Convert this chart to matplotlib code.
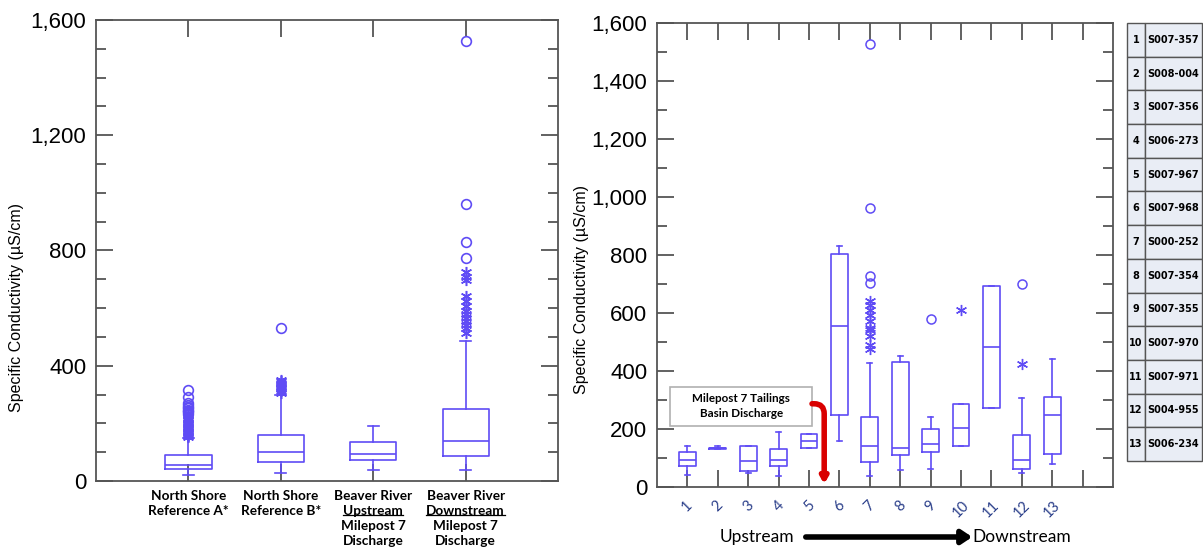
import matplotlib
matplotlib.use("Agg")
import matplotlib.pyplot as plt
from matplotlib.ticker import MultipleLocator, FuncFormatter
from matplotlib.patches import Rectangle, FancyArrowPatch
from matplotlib.lines import Line2D
import matplotlib.transforms as mtrans

# ---- left panel: regional comparison ----
left_labels = [
    ["North Shore", "Reference A*"],
    ["North Shore", "Reference B*"],
    ["Beaver River", "Upstream", "Milepost 7", "Discharge"],
    ["Beaver River", "Downstream", "Milepost 7", "Discharge"],
]
left_underlined = ["Upstream", "Downstream"]
left_whislo = [21, 29, 38, 38]
left_q1 = [43, 65, 73, 86]
left_med = [55, 99, 95, 140]
left_q3 = [89, 161, 137, 250]
left_whishi = [150, 300, 191, 485]
left_stars = [
    [151, 155, 158, 162, 167, 170, 174, 179, 183, 186, 190, 195, 199, 203,
     206, 211, 215, 219, 224, 229],
    [305, 312, 318, 322, 327, 331, 336, 341, 347, 352],
    [],
    [514, 531, 543, 555, 566, 578, 590, 608, 626, 643, 696, 708, 726],
]
left_circles = [
    [233, 238, 243, 248, 252, 258, 264, 270, 291, 317],
    [532],
    [],
    [775, 831, 963, 1527],
]

# ---- right panel: individual sites ----
site_nums = list(range(1, 14))
site_ids = ["S007-357", "S008-004", "S007-356", "S006-273", "S007-967",
            "S007-968", "S000-252", "S007-354", "S007-355", "S007-970",
            "S007-971", "S004-955", "S006-234"]
right_whislo = [40, 130, 49, 38, 136, 158, 38, 57, 63, 142, 271, 47, 80]
right_q1 = [73, 131, 54, 71, 136, 248, 87, 109, 122, 142, 271, 62, 114]
right_med = [92, 133, 88, 92, 159, 555, 140, 136, 148, 205, 484, 92, 249]
right_q3 = [122, 136, 142, 131, 182, 803, 241, 430, 200, 287, 694, 180, 312]
right_whishi = [142, 141, 142, 188, 182, 831, 429, 453, 243, 287, 694, 306, 443]
right_stars = {7: [476, 491, 519, 542, 548, 571, 594, 611, 628, 640],
               10: [611], 12: [424]}
right_circles = {7: [703, 726, 961, 1526], 9: [579], 12: [700]}

BOX = "#5f4cf5"
SPINE = "#555555"
ylabel = "Specific Conductivity (\u00b5S/cm)"
comma = FuncFormatter(lambda v, p: f"{v:,.0f}")

fig = plt.figure(figsize=(12.03, 5.5), dpi=100)
W, H = 1203, 550
axL = fig.add_axes([96 / W, 69 / H, 462 / W, 461 / H])
axR = fig.add_axes([657 / W, 63 / H, 456 / W, 464 / H])
axT = fig.add_axes([1127 / W, 89 / H, 75 / W, 438 / H])


def make_stats(lo, q1, med, q3, hi):
    return [dict(whislo=a, q1=b, med=c, q3=d, whishi=e, fliers=[])
            for a, b, c, d, e in zip(lo, q1, med, q3, hi)]


line = dict(color=BOX, lw=1.2)
for ax, stats, pos, w, cw in [
    (axL, make_stats(left_whislo, left_q1, left_med, left_q3, left_whishi),
     [1, 2, 3, 4], 0.5, 0.12),
    (axR, make_stats(right_whislo, right_q1, right_med, right_q3, right_whishi),
     site_nums, 0.55, 0.16),
]:
    ax.bxp(stats, positions=pos, widths=w, capwidths=cw, showfliers=False,
           boxprops=line, whiskerprops=line, capprops=line, medianprops=line)
    ax.set_ylim(0, 1600)
    ax.yaxis.set_minor_locator(MultipleLocator(100))
    ax.yaxis.set_major_formatter(comma)
    for s in ax.spines.values():
        s.set_color(SPINE)
        s.set_linewidth(1.3)
    ax.tick_params(which="both", direction="in", right=True, top=True,
                   color=SPINE, width=1.3)
    ax.tick_params(which="major", length=12)
    ax.tick_params(which="minor", length=7)
    ax.tick_params(axis="y", labelsize=16, pad=7)
    for lab in ax.get_yticklabels():
        lab.set_fontfamily("Liberation Sans")

star = (6, 2, 0)
for i, (st, ci) in enumerate(zip(left_stars, left_circles)):
    axL.plot([i + 1] * len(st), st, ls="none", marker=star, ms=8,
             mec=BOX, mew=1.1)
    axL.plot([i + 1] * len(ci), ci, ls="none", marker="o", ms=7,
             mfc="none", mec=BOX, mew=1.2)
for k, v in right_stars.items():
    axR.plot([k] * len(v), v, ls="none", marker=star, ms=8, mec=BOX, mew=1.0)
for k, v in right_circles.items():
    axR.plot([k] * len(v), v, ls="none", marker="o", ms=6.5,
             mfc="none", mec=BOX, mew=1.1)

# left axis cosmetics
axL.set_xlim(0, 5)
axL.set_xticks([1, 2, 3, 4])
axL.set_xticklabels([])
axL.yaxis.set_major_locator(MultipleLocator(400))
axL.set_ylabel(ylabel, fontsize=11.5, family="Liberation Sans")
axL.yaxis.set_label_coords(-0.156, 0.377)

trans = mtrans.blended_transform_factory(axL.transData, axL.transAxes)
under_texts = []
for i, lines in enumerate(left_labels):
    for j, txt in enumerate(lines):
        t = axL.text(i + 1, -0.019 - j * 0.0325, txt, transform=trans,
                     ha="center", va="top", fontsize=9.8, fontweight="bold",
                     family="Lato")
        if txt in left_underlined:
            under_texts.append(t)

# right axis cosmetics
axR.set_xlim(0, 15)
axR.set_xticks(site_nums + [14])
axR.set_xticklabels([str(n) for n in site_nums] + [""], rotation=45,
                    fontsize=10.5, color="#2b3f8a", family="Lato")
axR.tick_params(axis="x", pad=8)
axR.yaxis.set_major_locator(MultipleLocator(200))
axR.set_ylabel(ylabel, fontsize=11.5, family="Liberation Sans")
axR.yaxis.set_label_coords(-0.149, 0.425)

axR.add_patch(Rectangle((0.44, 212), 4.66, 132, fc="white", ec="#b0b0b0",
                        lw=1.2, zorder=5))
axR.text(2.77, 278, "Milepost 7 Tailings\nBasin Discharge", ha="center",
         va="center", fontsize=8.4, fontweight="bold", family="Lato",
         linespacing=1.45, zorder=6)
axR.annotate("", xy=(5.5, 10), xytext=(5.1, 287),
             arrowprops=dict(arrowstyle="-|>,head_length=0.35,head_width=0.2",
                             connectionstyle="angle,angleA=0,angleB=90,rad=10",
                             color="#d90000", lw=4, shrinkA=0, shrinkB=0),
             zorder=6)

fig.text(757 / W, 1 - 537 / H, "Upstream", ha="center", va="center",
         fontsize=12.5, family="Lato")
fig.text(1022 / W, 1 - 537 / H, "Downstream", ha="center", va="center",
         fontsize=12.5, family="Lato")
fig.add_artist(FancyArrowPatch((803 / W, 1 - 537 / H), (975 / W, 1 - 537 / H),
                               transform=fig.transFigure,
                               arrowstyle="-|>,head_length=6,head_width=4",
                               color="black", lw=4))

# site table
tbl = axT.table(cellText=[[str(n), s] for n, s in zip(site_nums, site_ids)],
                cellLoc="center", bbox=[0, 0, 1, 1], colWidths=[0.24, 0.76])
tbl.auto_set_font_size(False)
for cell in tbl.get_celld().values():
    cell.set_facecolor("#e9edf5")
    cell.set_edgecolor("#555555")
    cell.set_linewidth(1)
    cell.get_text().set_fontsize(7)
    cell.get_text().set_fontweight("bold")
axT.axis("off")

# underline the two direction words in the left labels
fig.canvas.draw()
rend = fig.canvas.get_renderer()
inv = fig.transFigure.inverted()
for t in under_texts:
    bb = t.get_window_extent(rend)
    (x0, y0), (x1, _) = inv.transform([(bb.x0, bb.y0 + 1.5), (bb.x1, bb.y0)])
    fig.add_artist(Line2D([x0, x1], [y0, y0], transform=fig.transFigure,
                          color="black", lw=0.9))

fig.savefig("out.png", dpi=100)
